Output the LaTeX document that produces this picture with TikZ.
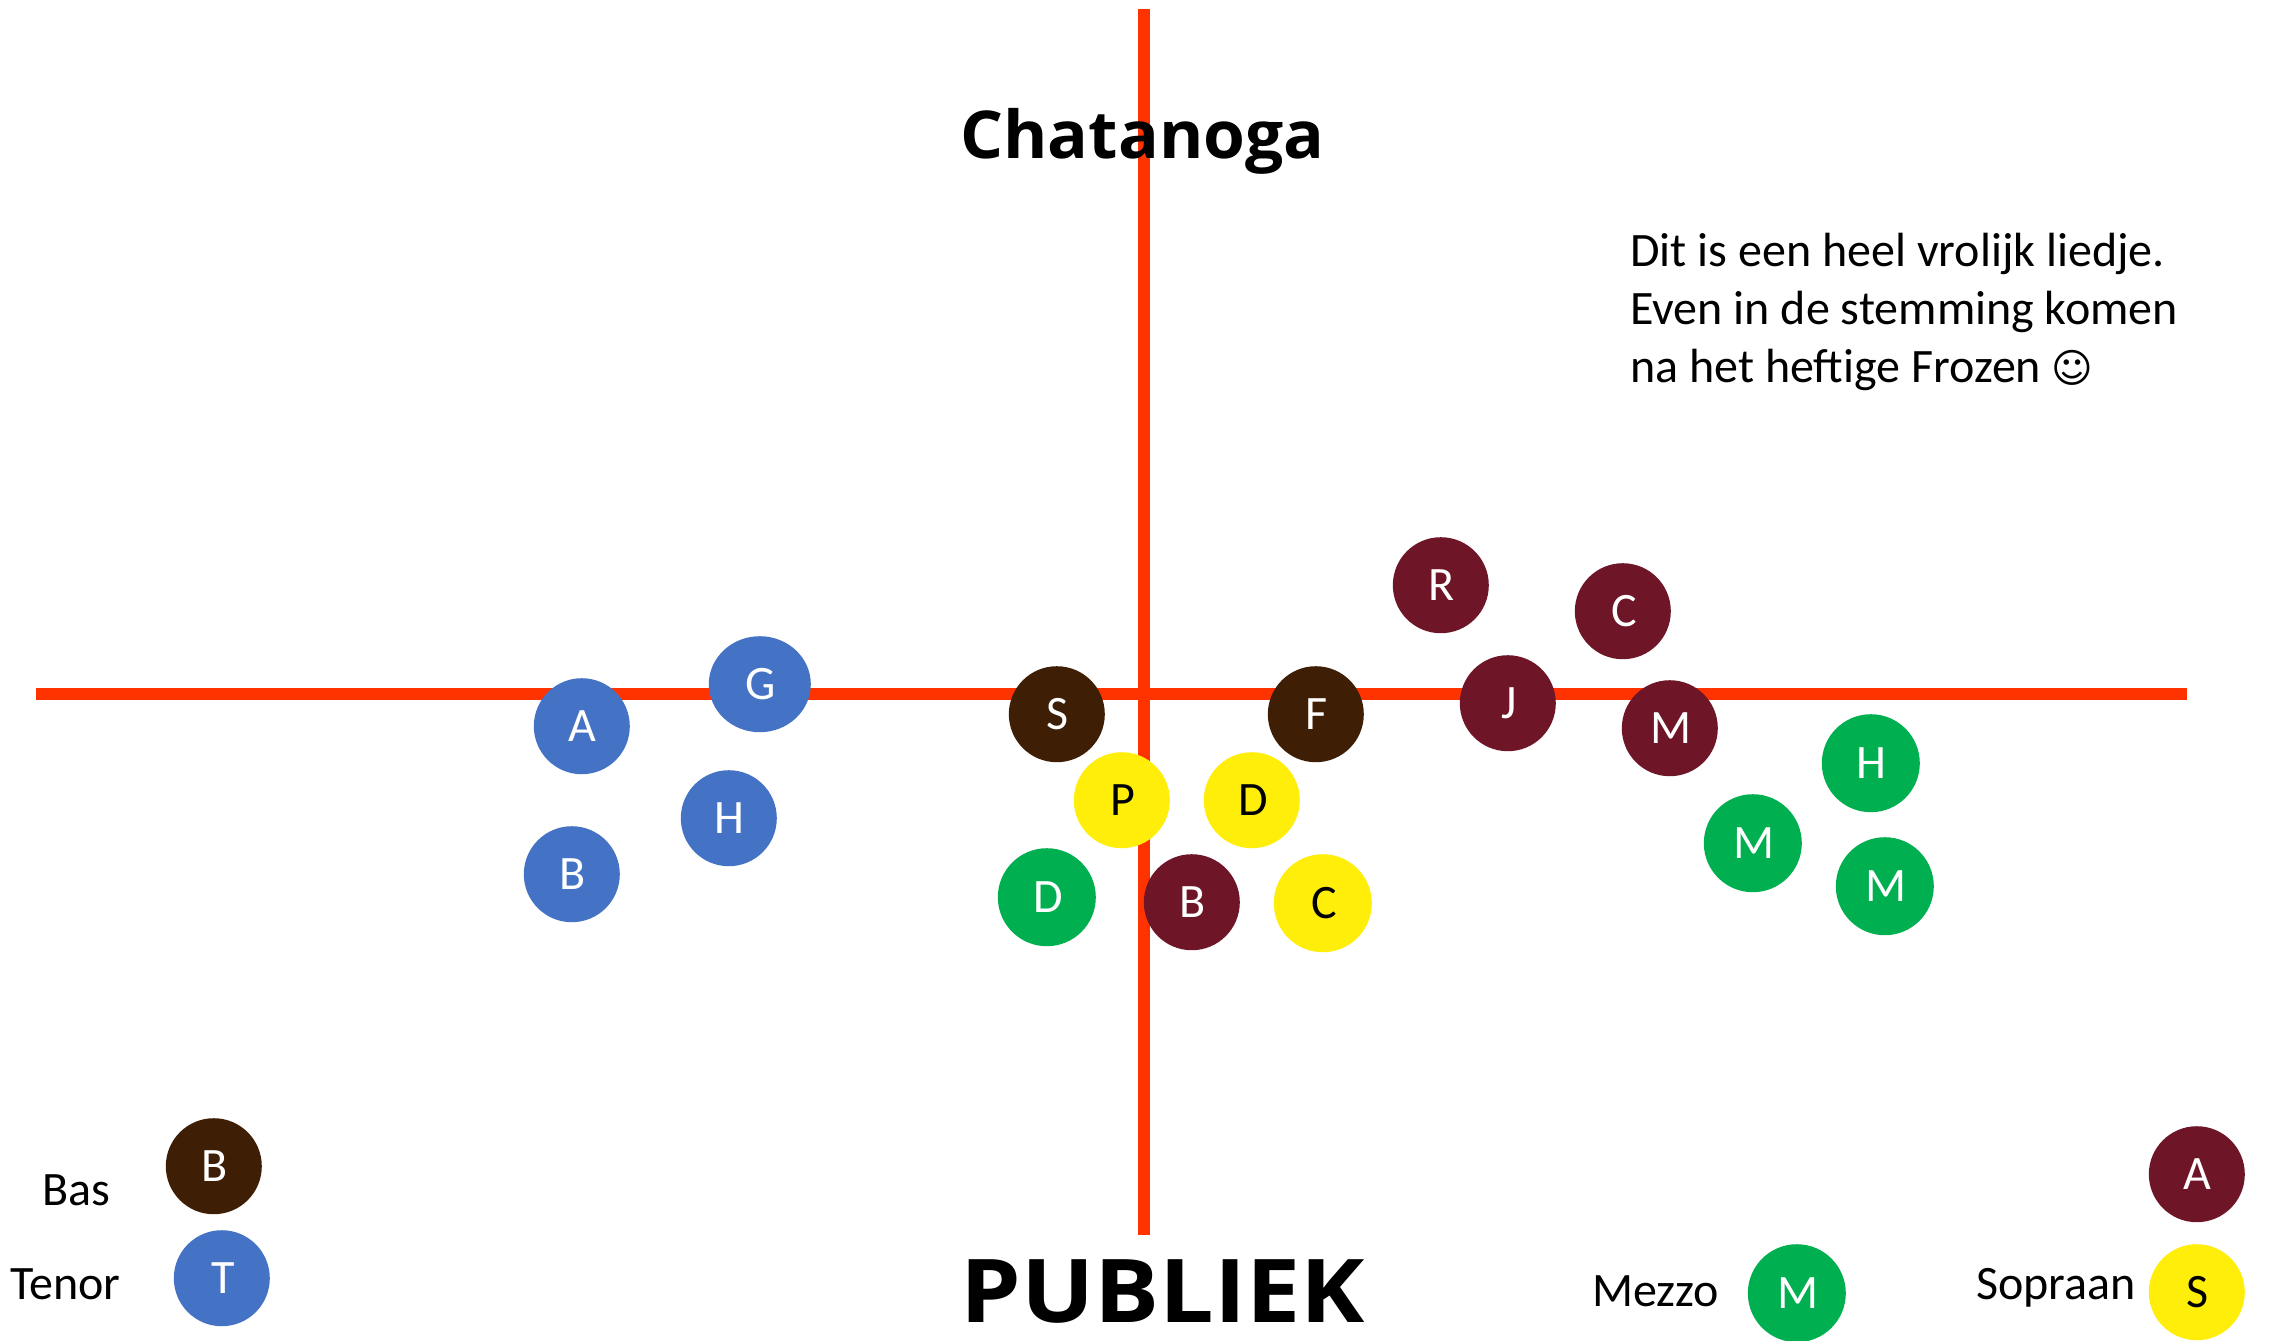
\documentclass[tikz,border=0pt]{standalone}
\usepackage{fontspec}
\usetikzlibrary{shapes.geometric}
\setmainfont{Carlito}
\newfontfamily\titlefont{Open Sans}[BoldFont={* Bold},FakeStretch=1.025]
\newfontfamily\pubfont{Open Sans}[BoldFont={* Bold},FakeStretch=1.1]
\newfontfamily\symfont{DejaVu Sans}
\definecolor{axisred}{HTML}{FF3300}
\definecolor{alto}{HTML}{6E1527}
\definecolor{bas}{HTML}{3F1E06}
\definecolor{tenor}{HTML}{4472C4}
\definecolor{mezzo}{HTML}{00B050}
\definecolor{sopraan}{HTML}{FFED0A}
\tikzset{
  singer/.style={circle,inner sep=0pt,minimum size=48pt,font=\fontsize{24}{24}\selectfont,xshift=0.4pt,yshift=-0.6pt,execute at begin node={\hspace{1pt}}},
  altoN/.style={singer,fill=alto,text=white},
  basN/.style={singer,fill=bas,text=white},
  tenorN/.style={singer,fill=tenor,text=white},
  mezzoN/.style={singer,fill=mezzo,text=white,minimum size=49pt},
  sopraanN/.style={singer,fill=sopraan,text=black},
  axisline/.style={draw=axisred,line width=6pt},
  lbl/.style={anchor=base west,inner sep=0pt,font=\fontsize{24}{24}\selectfont},
  ttl/.style={anchor=base west,inner sep=0pt,text=black}
}
\begin{document}
\begin{tikzpicture}[x=0.5pt,y=-0.5pt]
\path[use as bounding box,fill=white] (0,0) rectangle (2279,1340);
\coordinate (vtop) at (1143.5,9);
\coordinate (vbot) at (1143.5,1235);
\coordinate (hl) at (36,694);
\coordinate (hr) at (2187,694);
\draw[axisline] (vtop) -- (vbot);
\draw[axisline] (hl) -- (hr);
\node[ttl,font=\titlefont\bfseries\fontsize{33}{33}\selectfont] (title) at (960,158) {Chatanoga};
\node[ttl,font=\pubfont\bfseries\fontsize{44}{44}\selectfont] (publiek) at (960,1322) {PUBLIEK};
\node[lbl] (t1) at (1630,266) {Dit is een heel vrolijk liedje.};
\node[lbl] (t2) at (1630,324) {Even in de stemming komen};
\node[lbl] (t3) at (1630,382) {na het heftige Frozen {\symfont\fontsize{20}{20}\selectfont ☺}};
% tenors
\node[tenorN,ellipse,minimum width=51pt,minimum height=48pt] (tG) at (759,683) {G};
\node[tenorN] (tA) at (581,725) {A};
\node[tenorN] (tH) at (728,817) {H};
\node[tenorN] (tB) at (571,873) {B};
% basses
\node[basN] (bS) at (1056,713) {S};
\node[basN] (bF) at (1315,713) {F};
% sopranos
\node[sopraanN] (sP) at (1121,799) {P};
\node[sopraanN] (sD) at (1251,799) {D};
\node[sopraanN,minimum size=49pt] (sC) at (1322,902) {C};
% mezzos
\node[mezzoN] (mD) at (1046,896) {D};
\node[mezzoN] (mH) at (1870,762) {H};
\node[mezzoN] (mM1) at (1752,842) {M};
\node[mezzoN] (mM2) at (1884,885) {M};
% altos
\node[altoN] (aB) at (1191,901) {B};
\node[altoN] (aR) at (1440,584) {R};
\node[altoN] (aC) at (1622,610) {C};
\node[altoN] (aJ) at (1507,702) {J};
\node[altoN] (aM) at (1669,727) {M};
% legend
\node[basN] (lB) at (213,1165) {B};
\node[tenorN] (lT) at (221,1277) {T};
\node[mezzoN] (lM) at (1796,1292) {M};
\node[altoN] (lA) at (2196,1173) {A};
\node[sopraanN] (lS) at (2196,1291) {S};
\node[lbl] (lBas) at (42,1205) {Bas};
\node[lbl] (lTenor) at (10,1299) {Tenor};
\node[lbl] (lMezzo) at (1592,1306) {Mezzo};
\node[lbl] (lSop) at (1976,1299) {Sopraan};
\end{tikzpicture}
\end{document}
